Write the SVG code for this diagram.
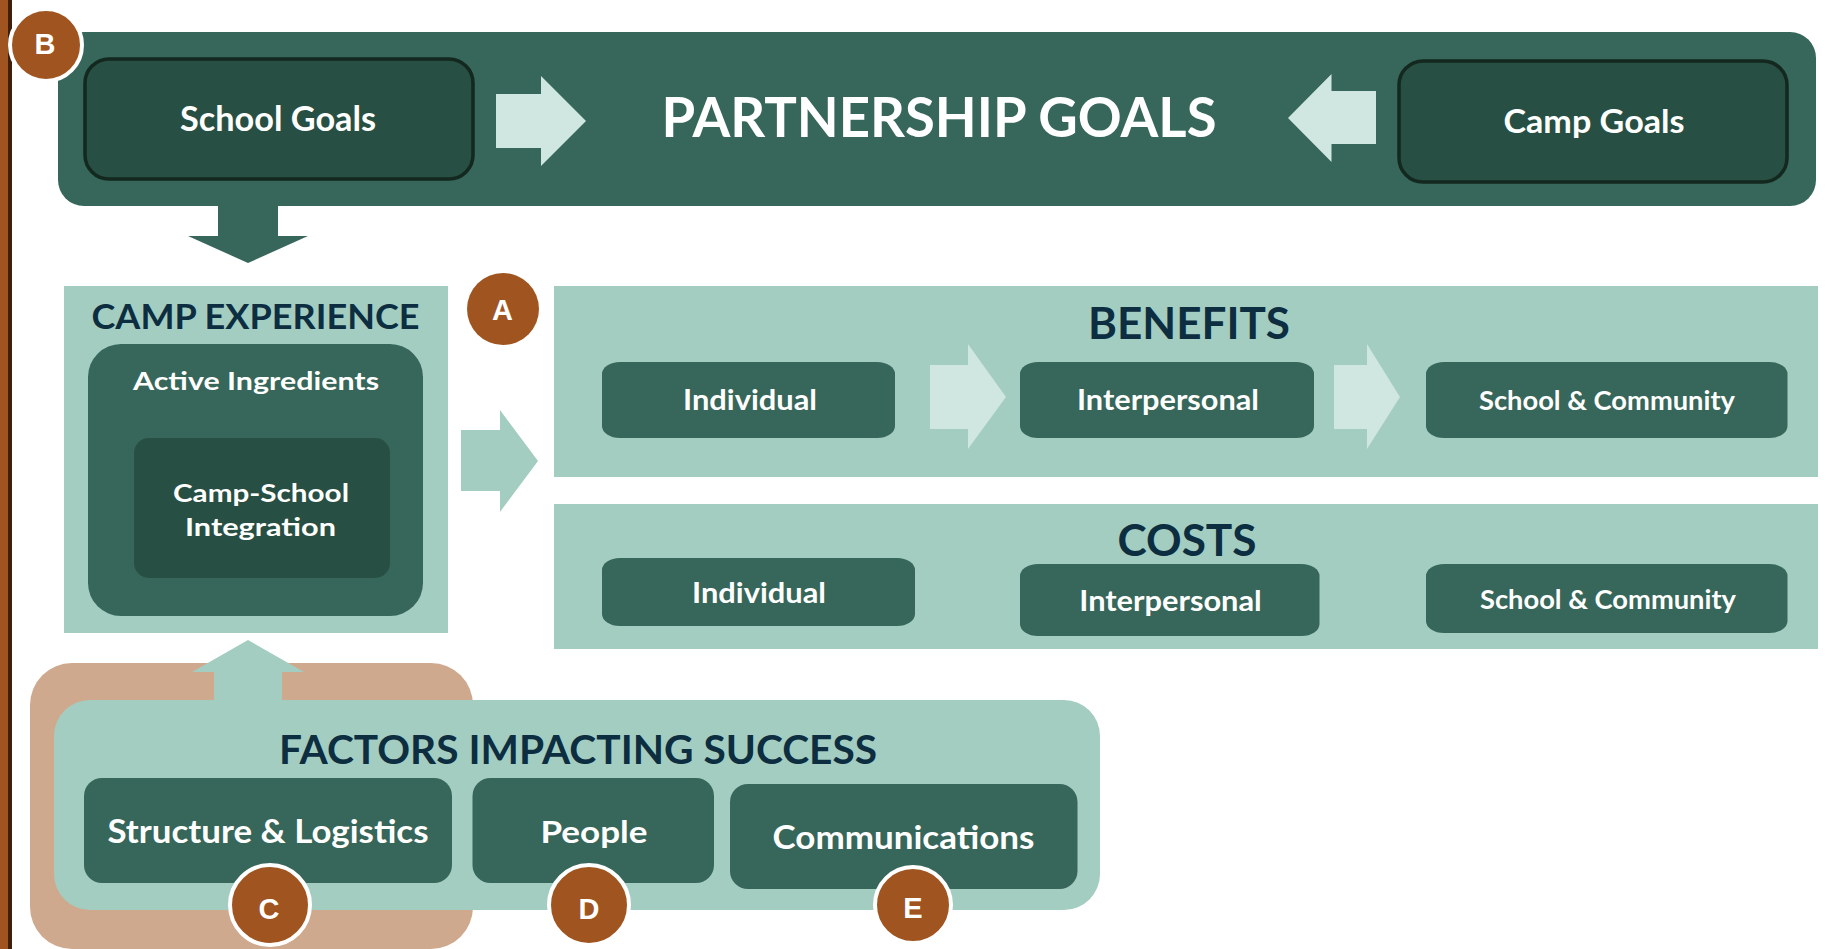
<svg xmlns="http://www.w3.org/2000/svg" width="1829" height="949" viewBox="0 0 1829 949">
<style>
.band{fill:#37665a}
.goal{fill:#284f43;stroke:#13281f;stroke-width:3.5}
.light{fill:#a3cdc1}
.dk{fill:#37665a}
.deep{fill:#284f43}
.pale{fill:#d0e6e0}
.badge{fill:#a0541f;stroke:#ffffff;stroke-width:4}
.t{font-family:Lato,"Open Sans","Liberation Sans",sans-serif;font-weight:bold;text-anchor:middle;fill:#ffffff}
.h{font-family:Lato,"Open Sans","Liberation Sans",sans-serif;font-weight:bold;text-anchor:middle;fill:#0c2e40}
.b{font-family:"Liberation Sans",Arial,sans-serif;font-weight:bold;text-anchor:middle;fill:#ffffff;font-size:29px}
</style>
<rect x="0" y="0" width="12" height="949" fill="#3d1f0c"/>
<rect x="0" y="0" width="8" height="949" fill="#a0541f"/>

<g id="partnership-goals">
  <rect class="band" x="58" y="32" width="1758" height="174" rx="26"/>
  <text class="t" x="939" y="137" font-size="56" textLength="555" lengthAdjust="spacingAndGlyphs">PARTNERSHIP GOALS</text>
</g>
<g id="school-goals">
  <rect class="goal" x="85" y="59" width="388" height="120" rx="24"/>
  <text class="t" x="278" y="130.5" font-size="33.5" textLength="196" lengthAdjust="spacingAndGlyphs">School Goals</text>
</g>
<g id="camp-goals">
  <rect class="goal" x="1399" y="61" width="388" height="121" rx="24"/>
  <text class="t" x="1594" y="132.5" font-size="33" textLength="181" lengthAdjust="spacingAndGlyphs">Camp Goals</text>
</g>
<g id="badge-b">
  <circle class="badge" cx="46" cy="45" r="36"/>
  <text class="b" x="45" y="54">B</text>
</g>

<g id="camp-experience">
  <rect class="light" x="64" y="286" width="384" height="347"/>
  <text class="h" x="255.5" y="329" font-size="34" textLength="328" lengthAdjust="spacingAndGlyphs">CAMP  EXPERIENCE</text>
</g>
<g id="active-ingredients">
  <rect class="dk" x="88" y="344" width="335" height="272" rx="33"/>
  <text class="t" x="256" y="390" font-size="25.5" textLength="246" lengthAdjust="spacingAndGlyphs">Active Ingredients</text>
</g>
<g id="camp-school-integration">
  <rect class="deep" x="134" y="438" width="256" height="140" rx="15"/>
  <text class="t" x="261" y="501.5" font-size="25.5" textLength="176" lengthAdjust="spacingAndGlyphs">Camp-School</text>
  <text class="t" x="260.5" y="536" font-size="25.5" textLength="151" lengthAdjust="spacingAndGlyphs">Integration</text>
</g>
<g id="badge-a">
  <circle fill="#a0541f" cx="503" cy="309" r="36"/>
  <text class="b" x="502.5" y="320">A</text>
</g>

<g id="benefits">
  <rect class="light" x="554" y="286" width="1264" height="191"/>
  <text class="h" x="1189" y="338.5" font-size="44" textLength="202" lengthAdjust="spacingAndGlyphs">BENEFITS</text>
</g>
<g id="benefits-individual">
  <rect class="dk" x="602" y="362" width="293" height="76" rx="18" ry="12"/>
  <text class="t" x="750" y="410" font-size="28" textLength="134" lengthAdjust="spacingAndGlyphs">Individual</text>
</g>
<g id="benefits-interpersonal">
  <rect class="dk" x="1020" y="362" width="294" height="76" rx="18" ry="12"/>
  <text class="t" x="1168" y="409.5" font-size="28" textLength="182" lengthAdjust="spacingAndGlyphs">Interpersonal</text>
</g>
<g id="benefits-school-community">
  <rect class="dk" x="1426" y="362" width="361.5" height="76" rx="18" ry="12"/>
  <text class="t" x="1607" y="409.5" font-size="26.5" textLength="256" lengthAdjust="spacingAndGlyphs">School &amp; Community</text>
</g>

<g id="costs">
  <rect class="light" x="554" y="504" width="1264" height="145"/>
  <text class="h" x="1187" y="556" font-size="44" textLength="139" lengthAdjust="spacingAndGlyphs">COSTS</text>
</g>
<g id="costs-individual">
  <rect class="dk" x="602" y="558" width="313" height="68" rx="18" ry="12"/>
  <text class="t" x="759" y="602.5" font-size="28" textLength="134" lengthAdjust="spacingAndGlyphs">Individual</text>
</g>
<g id="costs-interpersonal">
  <rect class="dk" x="1020" y="564" width="299.5" height="72" rx="18" ry="12"/>
  <text class="t" x="1170.5" y="611" font-size="28" textLength="182.5" lengthAdjust="spacingAndGlyphs">Interpersonal</text>
</g>
<g id="costs-school-community">
  <rect class="dk" x="1426" y="564" width="361.5" height="69" rx="18" ry="12"/>
  <text class="t" x="1608" y="608.5" font-size="26.5" textLength="256" lengthAdjust="spacingAndGlyphs">School &amp; Community</text>
</g>

<g id="factors-impacting-success">
  <rect fill="#cfa98e" x="30" y="663" width="443" height="286" rx="42"/>
  <rect class="light" x="54" y="700" width="1046" height="210" rx="36"/>
  <text class="h" x="578" y="764" font-size="40.5" textLength="598" lengthAdjust="spacingAndGlyphs">FACTORS IMPACTING SUCCESS</text>
</g>
<g id="structure-logistics">
  <rect class="dk" x="84" y="778" width="368" height="105" rx="18"/>
  <text class="t" x="268" y="842.5" font-size="32" textLength="321" lengthAdjust="spacingAndGlyphs">Structure &amp; Logistics</text>
</g>
<g id="people">
  <rect class="dk" x="472.5" y="778" width="241.5" height="105" rx="18"/>
  <text class="t" x="594" y="843" font-size="31" textLength="107" lengthAdjust="spacingAndGlyphs">People</text>
</g>
<g id="communications">
  <rect class="dk" x="730" y="784" width="347.5" height="105" rx="18"/>
  <text class="t" x="903.5" y="849" font-size="33" textLength="262" lengthAdjust="spacingAndGlyphs">Communications</text>
</g>
<g id="badge-c">
  <circle class="badge" cx="270" cy="905" r="40"/>
  <text class="b" x="269" y="919">C</text>
</g>
<g id="badge-d">
  <circle class="badge" cx="589" cy="905" r="40"/>
  <text class="b" x="589" y="919">D</text>
</g>
<g id="badge-e">
  <circle class="badge" cx="913" cy="905" r="38"/>
  <text class="b" x="913" y="918">E</text>
</g>

<g id="connectors">
  <polygon class="pale" points="496,94 541,94 541,76 586,121 541,166 541,148 496,148"/>
  <polygon class="pale" points="1376,91 1331.5,91 1331.5,74 1288,118 1331.5,162 1331.5,144 1376,144"/>
  <polygon class="band" points="218,205 278,205 278,236 308,236 248,263 188,236 218,236"/>
  <polygon class="light" points="461,430 500,430 500,410 538,461 500,512 500,491 461,491"/>
  <polygon class="pale" points="930,365 968,365 968,344 1006,397 968,449 968,429 930,429"/>
  <polygon class="pale" points="1334,365 1367,365 1367,344 1400,397 1367,449 1367,429 1334,429"/>
  <polygon class="light" points="248,640 304,672 282,672 282,701 214,701 214,672 192,672"/>
</g>
</svg>
